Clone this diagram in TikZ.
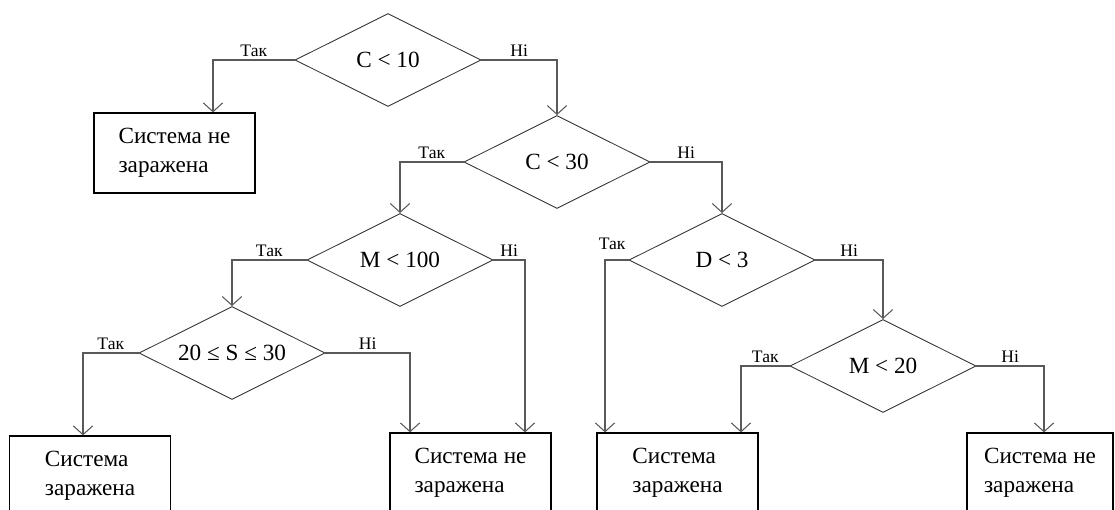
\documentclass[tikz,border=0pt]{standalone}
\usepackage{fontspec}
\setmainfont{Liberation Serif}
\usetikzlibrary{shapes.geometric,arrows.meta,positioning}

\tikzset{
  cond/.style={diamond, draw=black!80, line width=0.5pt, aspect=2,
    inner sep=0pt, minimum width=3.72cm, minimum height=1.86cm,
    font=\fontsize{13.2}{15}\selectfont},
  res/.style={rectangle, draw=black, line width=0.7pt,
    minimum width=3.22cm, minimum height=1.6cm, align=left,
    font=\fontsize{13.2}{16.8}\selectfont},
  flow/.style={draw=black!65, line width=0.6pt,
    -{Straight Barb[length=5pt,width=11pt]}},
  lbl/.style={above, inner sep=1.5pt, pos=.25,
    font=\fontsize{10}{12}\selectfont, text=black}
}

\begin{document}
\begin{tikzpicture}[x=0.02cm, y=-0.02cm]

  \useasboundingbox (0,0) rectangle (1115,510);
  \clip (0,0) rectangle (1115,510);

  %--- Conditions
  \node[cond] (d1) at (388,60)  {C < 10};
  \node[cond] (d2) at (557,162) {C < 30};
  \node[cond] (d3) at (400,260) {M < 100};
  \node[cond] (d4) at (722,260) {D < 3};
  \node[cond] (d5) at (232,353) {20 ≤ S ≤ 30};
  \node[cond] (d6) at (883,366) {M < 20};

  %--- Outcomes
  \node[res] (b1) at (174.5,153) {Система не\\заражена};
  \node[res] (b2) at (90,476)    {Система\\заражена};
  \node[res] (b3) at (470.5,473) {Система не\\заражена};
  \node[res] (b4) at (677.5,473) {Система\\заражена};
  \node[res, minimum width=2.92cm] (b5) at (1040,473) {Система не\\заражена};

  %--- Branches
  \draw[flow] (d1.west) -| node[lbl] {Так} ([xshift=0.77cm]b1.north);
  \draw[flow] (d1.east) -| node[lbl] {Ні} (d2.north);

  \draw[flow] (d2.west) -| node[lbl] {Так} (d3.north);
  \draw[flow] (d2.east) -| node[lbl] {Ні} (d4.north);

  \draw[flow] (d3.west) -| node[lbl] {Так} (d5.north);
  \draw[flow] (d3.east) -| node[lbl] {Ні} ([xshift=1.09cm]b3.north);

  \draw[flow] (d5.west) -| node[lbl] {Так} ([xshift=-0.14cm]b2.north);
  \draw[flow] (d5.east) -| node[lbl] {Ні} ([xshift=-1.21cm]b3.north);

  \draw[flow] (d4.west) -| node[lbl, pos=.35, yshift=4pt] {Так} ([xshift=-1.45cm]b4.north);
  \draw[flow] (d4.east) -| node[lbl] {Ні} (d6.north);

  \draw[flow] (d6.west) -| node[lbl] {Так} ([xshift=1.27cm]b4.north);
  \draw[flow] (d6.east) -| node[lbl] {Ні} ([xshift=0.08cm]b5.north);

\end{tikzpicture}
\end{document}
